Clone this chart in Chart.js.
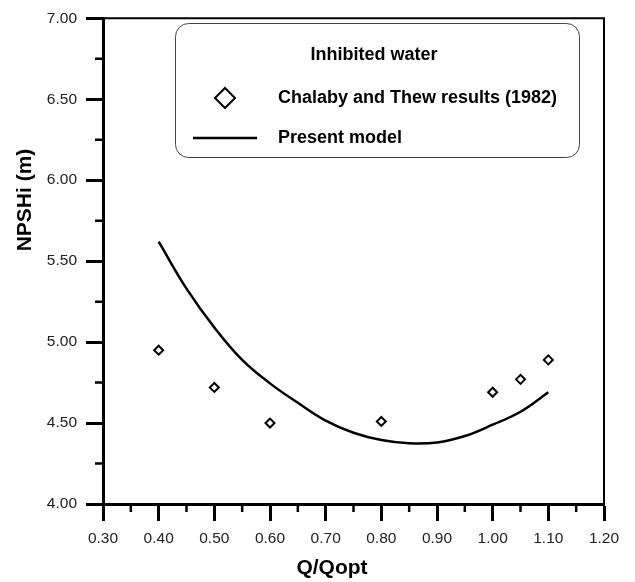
<!DOCTYPE html>
<html>
<head>
<meta charset="utf-8">
<script src="https://cdn.jsdelivr.net/npm/chart.js@4/dist/chart.umd.min.js"></script>
<style>
  body { margin: 0; background: #fff; }
</style>
</head>
<body>
<canvas id="npshChart" width="635" height="582"></canvas>
<script>
// ==========================================
// DATA
// ==========================================

const qMeasured = [0.40, 0.50, 0.60, 0.80, 1.00, 1.05, 1.10];
const npshMeasured = [4.95, 4.72, 4.50, 4.51, 4.69, 4.77, 4.89];

const qModel = [0.40, 0.45, 0.50, 0.55, 0.60, 0.65, 0.70, 0.75, 0.80, 0.85, 0.90, 0.95, 1.00, 1.05, 1.10];
const npshModel = [5.62, 5.33, 5.09, 4.89, 4.745, 4.625, 4.515, 4.44, 4.395, 4.375, 4.38, 4.42, 4.49, 4.57, 4.69];

const xMinorTicks = [0.35, 0.45, 0.55, 0.65, 0.75, 0.85, 0.95, 1.05, 1.15];
const yMinorTicks = [4.25, 4.75, 5.25, 5.75, 6.25, 6.75];

const legendTitle = "Inhibited water";
const xTitle = "Q/Qopt";
const yTitle = "NPSHi (m)";

const FONT = "'Liberation Sans', Arial, sans-serif";

// ==========================================
// EXTRA DRAWING: frame, minor ticks, titles, legend
// ==========================================

const extras = {
    id: "extras",
    afterDraw(chart) {
        const c = chart.ctx;
        const a = chart.chartArea;
        const xs = chart.scales.x;
        const ys = chart.scales.y;

        c.save();
        c.strokeStyle = "#000";

        // top + right frame
        c.lineWidth = 2;
        c.beginPath();
        c.moveTo(a.left, a.top);
        c.lineTo(a.right, a.top);
        c.lineTo(a.right, a.bottom + 1);
        c.stroke();

        // minor ticks
        c.lineWidth = 2.5;
        c.beginPath();
        xMinorTicks.forEach(v => {
            const px = xs.getPixelForValue(v);
            c.moveTo(px, a.bottom);
            c.lineTo(px, a.bottom + 8);
        });
        yMinorTicks.forEach(v => {
            const py = ys.getPixelForValue(v);
            c.moveTo(a.left, py);
            c.lineTo(a.left - 8, py);
        });
        c.stroke();

        // axis titles
        c.fillStyle = "#000";
        c.font = "bold 21px " + FONT;
        c.textAlign = "center";
        c.textBaseline = "middle";
        c.fillText(xTitle, 332, 568);
        c.translate(25, 200);
        c.rotate(-Math.PI / 2);
        c.fillText(yTitle, 0, 0);
        c.restore();

        // legend box
        c.save();
        c.strokeStyle = "#444";
        c.lineWidth = 1;
        c.beginPath();
        c.roundRect(175.5, 23.5, 404, 134, 13);
        c.fillStyle = "#fff";
        c.fill();
        c.stroke();

        c.fillStyle = "#000";
        c.font = "bold 18px " + FONT;
        c.textBaseline = "middle";
        c.textAlign = "center";
        c.fillText(legendTitle, 374, 55);

        c.textAlign = "left";
        const ds = chart.data.datasets;
        c.fillText(ds[0].label, 278, 98);
        c.fillText(ds[1].label, 278, 138);

        c.strokeStyle = "#000";
        c.lineWidth = 2;
        c.beginPath();
        c.moveTo(215, 98);
        c.lineTo(225, 88);
        c.lineTo(235, 98);
        c.lineTo(225, 108);
        c.closePath();
        c.stroke();

        c.lineWidth = 2.5;
        c.beginPath();
        c.moveTo(193, 138);
        c.lineTo(257, 138);
        c.stroke();
        c.restore();
    }
};

// ==========================================
// CHART
// ==========================================

const ctx = document.getElementById("npshChart").getContext("2d");

const chart = new Chart(ctx, {
    type: "scatter",
    data: {
        datasets: [{
            label: "Chalaby and Thew results (1982)",
            data: qMeasured.map((q, i) => ({ x: q, y: npshMeasured[i] })),
            pointStyle: "rectRot",
            pointRadius: 4.5,
            borderColor: "#000",
            backgroundColor: "#fff",
            pointBorderWidth: 2,
            showLine: false
        }, {
            label: "Present model",
            data: qModel.map((q, i) => ({ x: q, y: npshModel[i] })),
            showLine: true,
            borderColor: "#000",
            borderWidth: 2.5,
            pointRadius: 0,
            tension: 0.4
        }]
    },
    options: {
        responsive: false,
        animation: false,
        layout: { padding: { left: 0, top: 13, right: 31, bottom: 0 } },
        plugins: {
            legend: { display: false },
            tooltip: { enabled: false }
        },
        scales: {
            x: {
                type: "linear",
                min: 0.3,
                max: 1.2,
                afterFit(scale) { scale.height = 78; },
                ticks: {
                    stepSize: 0.1,
                    padding: 8,
                    color: "#222",
                    font: { family: FONT, size: 15.5 },
                    callback: v => v.toFixed(2)
                },
                grid: {
                    drawOnChartArea: false,
                    tickLength: 17,
                    tickWidth: 3,
                    tickColor: "#000"
                },
                border: { color: "#000", width: 3 }
            },
            y: {
                min: 4,
                max: 7,
                afterFit(scale) { scale.width = 103; },
                ticks: {
                    stepSize: 0.5,
                    padding: 9,
                    color: "#222",
                    font: { family: FONT, size: 15.5 },
                    callback: v => v.toFixed(2)
                },
                grid: {
                    drawOnChartArea: false,
                    tickLength: 17,
                    tickWidth: 3,
                    tickColor: "#000"
                },
                border: { color: "#000", width: 3 }
            }
        }
    },
    plugins: [extras]
});
</script>
</body>
</html>
